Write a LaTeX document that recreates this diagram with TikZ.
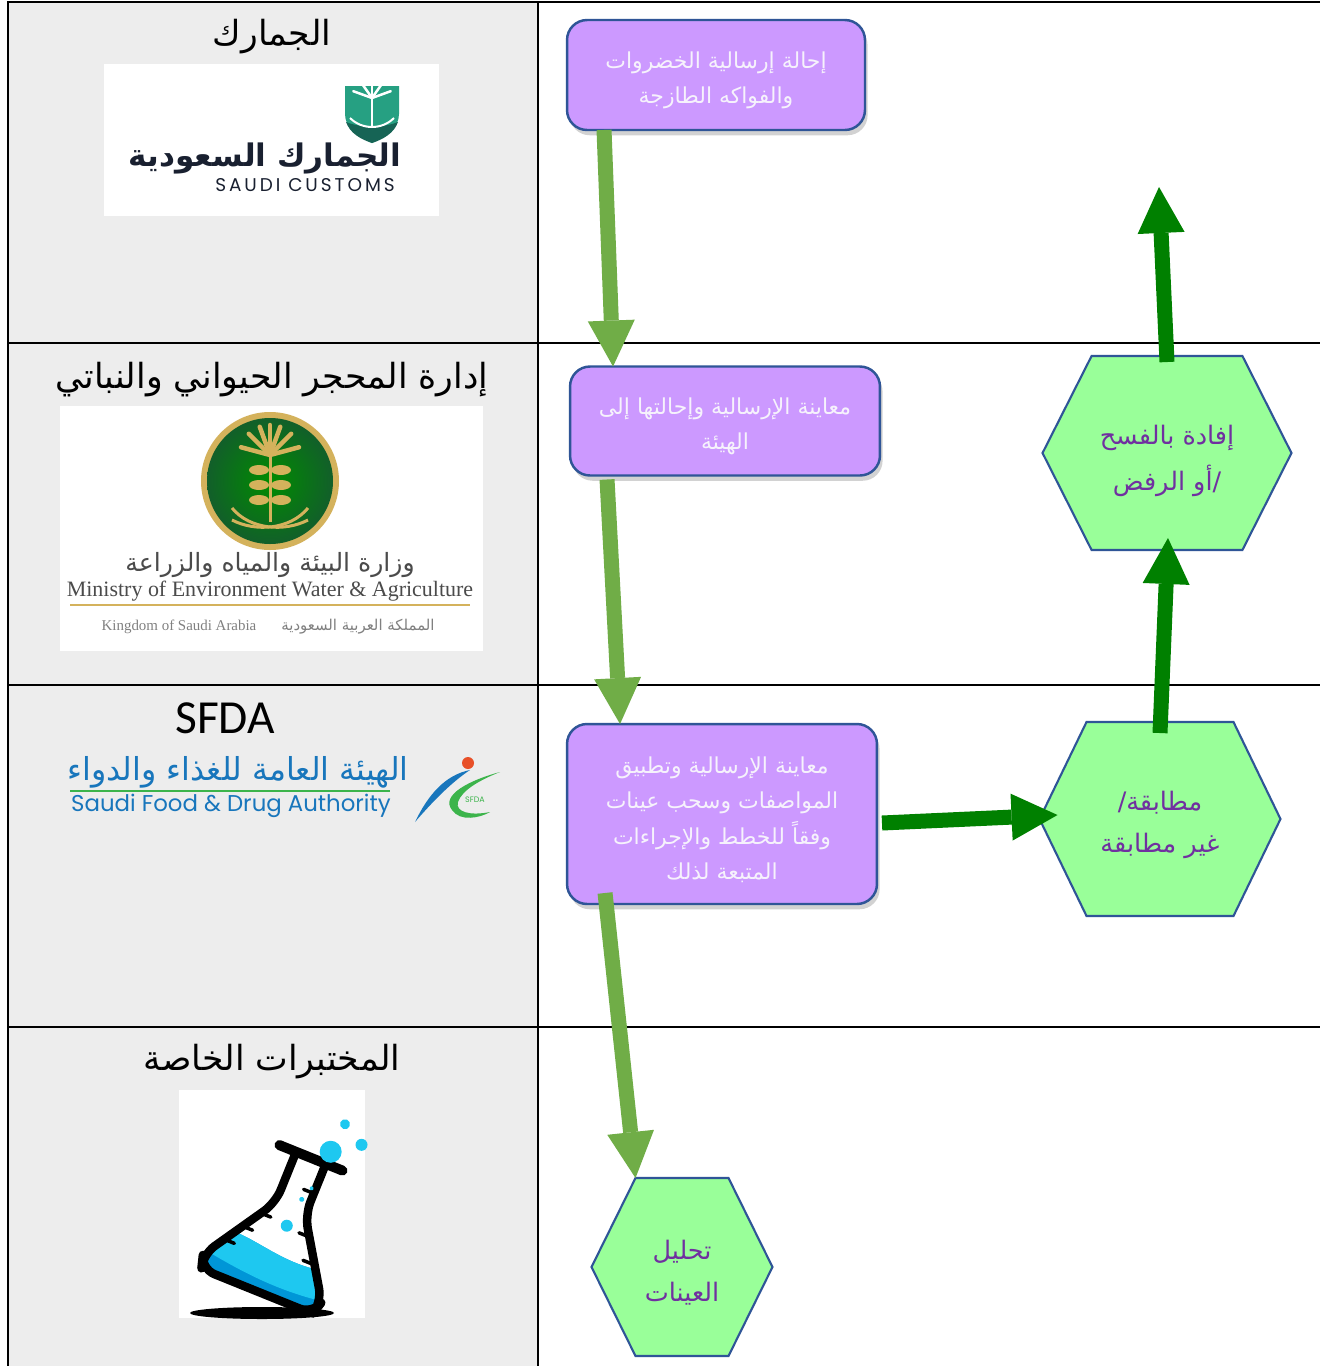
\documentclass[tikz,border=0pt]{standalone}
\usepackage{fontspec}
\setmainfont{DejaVu Sans}
\newfontfamily\arabicfont[Script=Arabic]{DejaVu Sans}
\newfontfamily\latinsans{Carlito}
\newfontfamily\geofont[LetterSpace=16]{Poppins}
\newfontfamily\roundfont{Poppins}
\newfontfamily\seriffont{Liberation Serif}
\TeXXeTstate=1
\usetikzlibrary{shapes,arrows.meta,positioning,calc,backgrounds,shadows}
\usepackage{xcolor}
\definecolor{tablegray}{RGB}{237,237,237}
\definecolor{boxfill}{RGB}{204,153,255}
\definecolor{boxedge}{RGB}{47,85,151}
\definecolor{boxtext}{RGB}{246,242,252}
\definecolor{hexfill}{RGB}{153,255,153}
\definecolor{hextext}{RGB}{112,48,160}
\definecolor{arrowlight}{RGB}{112,173,71}
\definecolor{arrowdark}{RGB}{0,128,0}
\definecolor{customsteal}{RGB}{38,160,130}
\definecolor{customsdark}{RGB}{22,100,85}
\definecolor{customsnavy}{RGB}{25,32,48}
\definecolor{ministrygreen}{RGB}{18,95,42}
\definecolor{ministrygold}{RGB}{212,178,92}
\definecolor{ministrytext}{RGB}{75,75,75}
\definecolor{sfdablue}{RGB}{24,118,188}
\definecolor{sfdagreen}{RGB}{60,180,75}
\definecolor{sfdaorange}{RGB}{232,80,40}
\definecolor{flaskblue}{RGB}{30,200,240}
\definecolor{flaskdeep}{RGB}{0,150,215}
\newcommand{\ar}[1]{{\arabicfont\beginR #1\endR}}
\newcommand{\hexpath}[2]{\filldraw[hexline] (#1.west) -- ($(#1.north west)!#2!(#1.north east)$) -- ($(#1.north east)!#2!(#1.north west)$) -- (#1.east) -- ($(#1.south east)!#2!(#1.south west)$) -- ($(#1.south west)!#2!(#1.south east)$) -- cycle;}

\begin{document}
\begin{tikzpicture}[x=0.02cm, y=-0.02cm,
    tableline/.style={black, line width=0.05cm},
    header/.style={font=\arabicfont\fontsize{19.7}{24}\selectfont, inner sep=0pt},
    stepbox/.style={draw=boxedge, fill=boxfill, line width=1.4pt, rounded corners=0.4cm,
        text=boxtext, align=center, inner sep=0pt, outer sep=0pt,
        font=\arabicfont\fontsize{12.5}{20}\selectfont,
        drop shadow={shadow xshift=1.5pt, shadow yshift=-3pt, opacity=0.35}},
    hexbox/.style={text=hextext, align=center, inner sep=0pt, outer sep=0pt,
        font=\arabicfont\fontsize{14.5}{24}\selectfont},
    hexline/.style={draw=boxedge, fill=hexfill, line width=1.2pt, line join=miter},
    lightflow/.style={draw=arrowlight, line width=0.3cm, -{Triangle[length=0.92cm, width=0.94cm, line width=0pt]}},
    darkflow/.style={draw=arrowdark, line width=0.3cm, -{Triangle[length=0.92cm, width=0.94cm, line width=0pt]}}]
    \useasboundingbox (0,0) rectangle (1320,1366);
    \fill[tablegray] (8,2) rectangle (538,1366);
    \draw[tableline] (8,1366) -- (8,2) -- (1320,2);
    \draw[tableline] (538,2) -- (538,1366);
    \foreach \y in {343,685,1027}
        \draw[tableline] (8,\y) -- (1320,\y);

    \node[header] (customs) at (272,37) {\ar{الجمارك}};
    \node[header] (quarantine) at (272,380) {\ar{إدارة المحجر الحيواني والنباتي}};
    \node[header, font=\latinsans\fontsize{27}{30}\selectfont] (sfda) at (225,718) {SFDA};
    \node[header] (labs) at (272,1062) {\ar{المختبرات الخاصة}};

    % customs logo
    \fill[white] (104,64) rectangle (439,216);
    \fill[customsteal] (345,86) -- (399,86) -- (399,114) .. controls (399,128) and (386,137) .. (372,143) .. controls (358,137) and (345,128) .. (345,114) -- cycle;
    \fill[customsdark] (346,122) .. controls (360,128) and (384,128) .. (398,122) .. controls (394,133) and (384,139) .. (372,143) .. controls (360,139) and (350,133) .. cycle;
    \draw[white, line width=0.05cm] (372,96) -- (372,126);
    \foreach \a in {-20,-55,-90,-125,-160}
        \draw[white, line width=0.05cm, line cap=round] (372,98) -- +(\a:20);
    \draw[white, line width=0.04cm] (350,118) .. controls (362,130) and (382,130) .. (394,118);
    \node[font=\arabicfont\bfseries\fontsize{17.7}{22}\selectfont, text=customsnavy] (customsar) at (265,158) {\ar{الجمارك السعودية}};
    \node[font=\geofont\fontsize{10.5}{12}\selectfont, text=customsnavy] (customsen) at (305,185) {SAUDI CUSTOMS};

    % ministry logo
    \fill[white] (60,406) rectangle (483,651);
    \fill[ministrygold] (270,481) circle (69);
    \shade[inner color=green!55!black, outer color=ministrygreen] (270,481) circle (63);
    \foreach \a in {-15,-45,-70,-90,-110,-135,-165}
        \draw[ministrygold, line width=0.09cm, line cap=round] (270,455) -- +(\a:30);
    \draw[ministrygold, line width=0.06cm] (270,455) -- (270,522);
    \foreach \yy in {470,485,500} {
        \fill[ministrygold] (259,\yy) ellipse (10 and 5);
        \fill[ministrygold] (281,\yy) ellipse (10 and 5);
    }
    \draw[ministrygold, line width=0.06cm] (232,508) .. controls (250,530) and (285,532) .. (308,520);
    \draw[ministrygold, line width=0.06cm] (308,508) .. controls (290,530) and (255,532) .. (232,520);
    \node[font=\arabicfont\fontsize{14.3}{16}\selectfont, text=ministrytext] (ministryar) at (270,565) {\ar{وزارة البيئة والمياه والزراعة}};
    \node[font=\seriffont\fontsize{12.5}{14}\selectfont, text=ministrytext] (ministryen) at (270,591) {Ministry of Environment Water \& Agriculture};
    \draw[ministrygold, line width=0.04cm] (70,605) -- (470,605);
    \node[font=\seriffont\fontsize{8.5}{10}\selectfont, text=gray] (kingdomen) at (179,627) {Kingdom of Saudi Arabia};
    \node[font=\arabicfont\fontsize{8.5}{10}\selectfont, text=gray] (kingdomar) at (358,627) {\ar{المملكة العربية السعودية}};

    % sfda logo
    \node[font=\arabicfont\fontsize{18}{20}\selectfont, text=sfdablue] (sfdaar) at (238,772) {\ar{الهيئة العامة للغذاء والدواء}};
    \draw[sfdagreen, line width=0.03cm] (70,791) -- (390,791);
    \node[font=\roundfont\fontsize{13}{15}\selectfont, text=sfdablue] (sfdaen) at (231,806) {Saudi Food \& Drug Authority};
    \fill[sfdablue] (415,822) .. controls (428,795) and (445,775) .. (470,770) .. controls (452,782) and (434,800) .. (415,822) -- cycle;
    \fill[sfdagreen] (500,772) .. controls (470,780) and (440,795) .. (452,810) .. controls (460,822) and (480,818) .. (490,812) .. controls (470,816) and (455,812) .. (458,802) .. controls (462,790) and (480,780) .. (500,772) -- cycle;
    \fill[sfdaorange] (468,763) circle (6);
    \node[font=\roundfont\fontsize{4.5}{5}\selectfont, text=sfdagreen] (sfdamark) at (475,800) {SFDA};

    % lab logo
    \fill[white] (179,1090) rectangle (365,1318);
    \fill[black] (262,1313) ellipse (72 and 6);
    \begin{scope}[shift={(281,1232)}, rotate=-22]
        \fill[white] (-16,-78) -- (-16,-25) -- (-64,50) -- (-60,64) -- (60,64) -- (64,50) -- (16,-25) -- (16,-78) -- cycle;
        \begin{scope}
            \clip[rounded corners=0.28cm] (-16,-78) -- (-16,-25) -- (-64,50) -- (-60,64) -- (60,64) -- (64,50) -- (16,-25) -- (16,-78) -- cycle;
            \fill[flaskdeep] (-70,22) .. controls (-30,6) and (10,36) .. (70,16) -- (70,70) -- (-70,70) -- cycle;
            \fill[flaskblue] (-70,22) .. controls (-30,6) and (10,36) .. (70,16) -- (70,48) .. controls (20,56) and (-20,52) .. (-70,44) -- cycle;
        \end{scope}
        \draw[black, line width=0.17cm, rounded corners=0.28cm, line join=round] (-16,-78) -- (-16,-25) -- (-64,50) -- (-60,64) -- (60,64) -- (64,50) -- (16,-25) -- (16,-78);
        \draw[black, line width=0.2cm, line cap=round] (-34,-80) -- (34,-80);
        \foreach \p in {(-26,-10), (-38,9), (-50,28)}
            \draw[black, line width=0.07cm, line cap=round] \p -- ++(11,0);
        \foreach \p in {(16,-48), (28,-6), (42,18)}
            \draw[black, line width=0.07cm, line cap=round] \p -- ++(-11,0);
        \fill[flaskblue] (3,-8) circle (6);
        \fill[flaskblue] (7,-38) circle (2.5);
        \fill[flaskblue] (12,-52) circle (2);
        \fill[flaskblue] (16,-93) circle (11);
        \fill[flaskblue] (42,-111) circle (6);
        \fill[flaskblue] (19,-124) circle (5);
    \end{scope}

    % flow
    \node[stepbox, minimum width=5.96cm, minimum height=2.2cm] (refer) at (716,75)
        {\rule{0pt}{16pt}\ar{إحالة إرسالية الخضروات}\\\ar{والفواكه الطازجة}};
    \node[stepbox, minimum width=6.2cm, minimum height=2.18cm] (inspect) at (725,421)
        {\rule{0pt}{16pt}\ar{معاينة الإرسالية وإحالتها إلى}\\\ar{الهيئة}};
    \node[stepbox, minimum width=6.2cm, minimum height=3.6cm] (apply) at (722,814)
        {\rule{0pt}{16pt}\ar{معاينة الإرسالية وتطبيق}\\\ar{المواصفات وسحب عينات}\\\ar{وفقاً للخطط والإجراءات}\\\ar{المتبعة لذلك}};
    \node[hexbox, minimum width=3.62cm, minimum height=3.56cm] (analyse) at (682,1267)
        {\rule{0pt}{17pt}\ar{تحليل}\\\ar{العينات}};
    \node[hexbox, minimum width=4.82cm, minimum height=3.88cm] (match) at (1160,819)
        {\rule{0pt}{17.5pt}\ar{مطابقة/}\\\ar{غير مطابقة}};
    \node[hexbox, minimum width=4.98cm, minimum height=3.88cm] (notify) at (1167,453)
        {\rule{0pt}{20pt}\ar{إفادة بالفسح}\\[2pt]\ar{/أو الرفض}};
    \coordinate (exit) at (1159,187);
    \begin{scope}[on background layer]
        \fill[white] (0,0) rectangle (1320,1366);
        \hexpath{analyse}{0.243}
        \hexpath{match}{0.195}
        \hexpath{notify}{0.197}
    \end{scope}

    \draw[lightflow] ($(refer.south west)+(37,0)$) -- ($(inspect.north west)+(43,0)$);
    \draw[lightflow] ($(inspect.south west)+(37,4)$) -- ($(apply.north west)+(53,0)$);
    \draw[lightflow] ($(apply.south west)+(38,-11)$) -- ($(analyse.north west)+(44,0)$);
    \draw[darkflow] ($(apply.east)+(5,9)$) -- ($(match.west)+(18,-4)$);
    \draw[darkflow] ($(match.north)+(0,11)$) -- ($(notify.south)+(1,-12)$);
    \draw[darkflow] ($(notify.north)+(0,6)$) -- (exit);
\end{tikzpicture}
\end{document}
